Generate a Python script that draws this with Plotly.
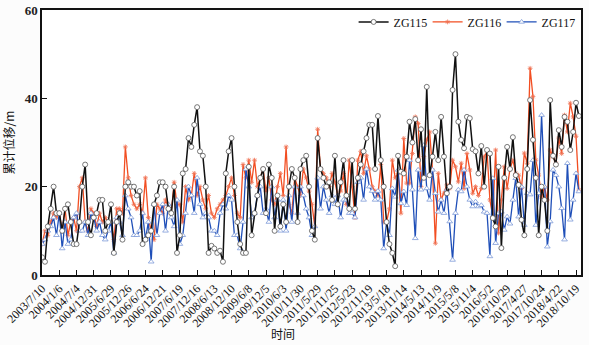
import pandas as pd
import plotly.graph_objects as go

# ---- data (~30-day sampling from 2003/7/10) ----
start_date = "2003-07-10"
step_days = 30

zg115 = [
    4, 3, 11, 15, 20, 14,
    14, 10, 15, 16, 12, 7,
    7, 12, 20, 25, 12, 9,
    13, 14, 17, 17, 10, 12,
    16, 5, 12, 14, 8, 20,
    21, 20, 20, 18, 19, 7,
    8, 9, 10, 16, 18, 21,
    21, 20, 15, 14, 20, 5,
    9, 23, 24, 31, 29, 34,
    38, 28, 27, 20, 5, 6.6,
    6, 5, 5.5, 3, 23, 28,
    31, 20, 12, 7, 5, 5,
    24.5, 9, 14, 18, 22, 24,
    14, 25, 22, 10, 18, 11,
    16, 12, 20, 24, 22, 12,
    24, 26, 27, 20, 10, 8,
    31, 24, 22, 20, 21, 17,
    27, 16, 21, 26, 18, 15,
    26, 15, 22, 25, 28, 31,
    34, 34, 24, 36, 26, 20,
    12, 7, 5, 2,
    27, 23.4, 23, 26.8, 34.7, 30, 35.3, 26, 33, 22,
    42.6, 22.6, 26.8, 32.4, 26, 35.8, 26.8, 18.5, 20, 41.9,
    50, 34.7, 30.6, 28.7, 35.8, 35.5, 28.5, 28, 23, 29.2,
    20, 28.3, 27.5, 12.9, 11, 24.5, 6.1, 22, 29, 24,
    31.2, 22.6, 20.4, 12.5, 9, 24, 39.6, 30.6, 22, 9,
    20, 17, 10, 39.6, 27, 25, 32.8, 29, 35.8, 34.7,
    28.3, 32.4, 39, 36,
]

zg116 = [
    7, 10, 9, 12, 14, 13,
    14, 10, 15, 9, 12, 13,
    10, 20, 22, 12, 10, 15,
    14, 11, 14, 12, 13, 12,
    12, 8, 15, 15, 14, 29,
    22, 18, 16, 15, 16, 14,
    22, 13, 10, 8, 16, 15,
    14, 17, 15, 14, 21, 16,
    16, 12, 20, 17, 18, 23,
    18, 20, 17, 15, 18, 14,
    13, 15, 16, 17, 18, 20,
    22, 18, 14, 13, 25, 22,
    26, 21, 26, 20, 22, 24,
    19, 22, 17, 16, 20, 23,
    18, 29, 16, 14, 22, 20,
    18, 24, 22, 19, 16, 11,
    33, 24, 23, 22, 20, 23,
    21, 18, 19, 23, 16, 26,
    20, 13, 26, 28, 23, 27,
    24, 20, 19, 18, 25, 12,
    12, 15, 26, 22,
    23, 14, 30.9, 20.8, 20.8, 27.5, 35.8, 34.3, 20, 26.8,
    30.6, 32.4, 23.8, 7.2, 23, 17, 18.5, 20.4, 19.6, 26,
    24.5, 21.1, 25.3, 19.6, 27.5, 23.8, 18.5, 20,
    18, 19.6, 26.8, 27.9, 17, 13.2, 28.3, 9.5, 17, 24.5,
    19.6, 24, 26, 23, 22.6, 19.6, 27.6, 25.3, 46.8, 40.4,
    26, 22.6, 17.7, 20, 17, 28.3, 26.8, 25.3, 31, 27.5,
    36.2, 32.4, 38.9, 35.8, 31.4, 19.2,
]

zg117 = [
    7, 8, 10, 11, 13, 9,
    14, 6, 12, 7, 8, 13,
    14, 10, 10, 12, 9, 14,
    13, 10, 12, 9, 8, 10,
    12, 5, 13, 12, 9, 18,
    15, 13, 9, 9, 10, 14,
    8, 12, 3, 16, 9, 14,
    16, 10, 16, 13, 11, 17,
    7, 9, 14, 20, 18, 14,
    22, 16, 13, 14, 13, 10,
    10, 9, 14, 16, 15, 18,
    17, 9, 9, 6, 12, 24,
    20, 13, 14, 18, 20, 14,
    15, 12, 20, 13, 17, 10,
    17, 10, 18, 12, 20, 14,
    20, 18, 15, 13, 9, 11,
    22, 15, 20, 17, 14, 18,
    16, 18, 13, 17, 17, 14,
    14, 13, 21, 22, 17, 24,
    20, 19, 17, 19, 17, 6,
    12, 9, 19.6, 17.7,
    23.8, 16.2, 18.9, 15.8, 26, 19.3, 8.3, 23.8, 19.3, 29.4,
    19.6, 17, 23.8, 18.5, 14.3, 17, 14, 19.3, 12.1, 3.4,
    14, 19.3, 18.9, 23.8, 20, 17, 15.5, 16.6,
    15.5, 15.8, 14.3, 14, 4.2, 21.9, 7.2, 14, 14.3, 10.2,
    13.2, 11.6, 17, 21.9, 13.2, 20, 11.3, 18.5, 18.2, 26,
    11.3, 18.5, 36.2, 20, 6.4, 12.1, 23.8, 22.6, 20, 15.1,
    8, 25.3, 12.5, 17, 23, 18.9,
]

tick_labels = [
    "2003/7/10", "2004/1/6", "2004/7/4", "2004/12/31", "2005/6/29", "2005/12/26",
    "2006/6/24", "2006/12/21", "2007/6/19", "2007/12/16", "2008/6/13", "2008/12/10",
    "2009/6/8", "2009/12/5", "2010/6/3", "2010/11/30", "2011/5/29", "2011/11/25",
    "2012/5/23", "2012/11/19", "2013/5/18", "2013/11/14", "2014/5/13", "2014/11/9",
    "2015/5/8", "2015/11/4", "2016/5/2", "2016/10/29", "2017/4/27", "2017/10/24",
    "2018/4/22", "2018/10/19",
]
y_ticks = [0, 20, 40, 60]

series_names = ["ZG115", "ZG116", "ZG117"]

# ---- figure ----
def dates_for(values):
    return pd.date_range(start_date, periods=len(values), freq=f"{step_days}D")

tick_vals = pd.to_datetime(tick_labels, format="%Y/%m/%d")

fig = go.Figure()
fig.add_trace(go.Scatter(
    x=dates_for(zg116), y=zg116, name=series_names[1], mode="lines+markers",
    line=dict(color="#F24E22", width=1.3),
    marker=dict(symbol="asterisk-open", size=4, color="#F07050", line=dict(width=0.8, color="#F07050")),
    legendrank=2,
))
fig.add_trace(go.Scatter(
    x=dates_for(zg117), y=zg117, name=series_names[2], mode="lines+markers",
    line=dict(color="#1F4FB8", width=1.3),
    marker=dict(symbol="triangle-up", size=5, color="white", line=dict(width=0.8, color="#7E9BD8")),
    legendrank=3,
))
fig.add_trace(go.Scatter(
    x=dates_for(zg115), y=zg115, name=series_names[0], mode="lines+markers",
    line=dict(color="#111111", width=1.5),
    marker=dict(symbol="circle", size=5, color="white", line=dict(width=0.8, color="#555555")),
    legendrank=1,
))

serif = "Liberation Serif"
fig.update_layout(
    template="none",
    width=589, height=345,
    margin=dict(l=42, r=8, t=10, b=70, autoexpand=False),
    paper_bgcolor="#fcfcfc", plot_bgcolor="#ffffff",
    showlegend=True,
    legend=dict(orientation="h", x=0.99, y=0.955, xanchor="right", yanchor="middle",
                font=dict(family=serif, size=12, color="#111"),
                bgcolor="rgba(0,0,0,0)", traceorder="normal",
                itemwidth=30, tracegroupgap=0, entrywidth=29, entrywidthmode="pixels"),
    font=dict(family=serif, color="#111"),
)
fig.update_xaxes(
    type="date", range=["2003-07-09", "2018-12-10"], automargin=False,
    tickmode="array", tickvals=tick_vals, ticktext=tick_labels,
    tickangle=-45, tickfont=dict(family=serif, size=12, color="#111"),
    ticks="inside", ticklen=5, tickwidth=1, tickcolor="#111",
    showline=True, linecolor="#111", linewidth=1.5, mirror=True,
    showgrid=False, zeroline=False,
)
fig.update_yaxes(
    range=[0, 60], tickmode="array", tickvals=y_ticks, automargin=False,
    tickfont=dict(family=serif, size=13, color="#222", weight="bold"),
    ticks="inside", ticklen=5, tickwidth=1, tickcolor="#111",
    showline=True, linecolor="#111", linewidth=1.5, mirror=True,
    showgrid=False, zeroline=False,
    title=dict(text="累计位移/m", font=dict(family="Noto Sans CJK SC", size=12, color="#111"), standoff=8),
)
fig.add_annotation(
    text="时间", xref="paper", yref="paper", x=0.447, y=-0.22,
    xanchor="center", yanchor="middle", showarrow=False,
    font=dict(family="Noto Sans CJK SC", size=12, color="#111"),
)

fig.write_html("out.html")
